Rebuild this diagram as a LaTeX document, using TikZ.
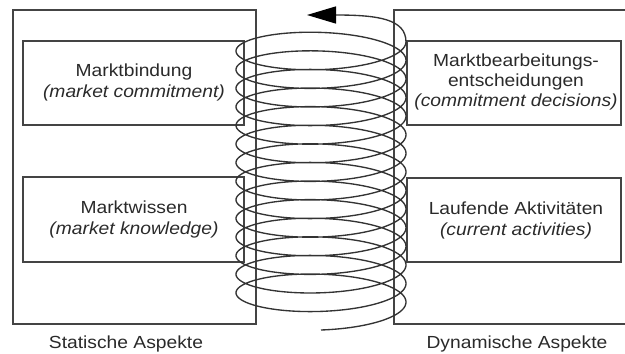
\documentclass[tikz,border=0pt]{standalone}
\usepackage{fontspec}
\setmainfont{Liberation Sans}[FakeStretch=1.1]
\usetikzlibrary{arrows.meta}
\definecolor{ln}{HTML}{444444}
\definecolor{cl}{HTML}{333333}
\definecolor{tx}{HTML}{2A2A2A}
\begin{document}
\begin{tikzpicture}[x=1pt,y=-1pt,
  box/.style={draw=ln, line width=1.5pt, inner sep=0pt},
  lbl/.style={text=tx, anchor=base, inner sep=0pt, font=\fontsize{17.5}{21}\selectfont},
  ilbl/.style={lbl, font=\fontsize{17.5}{21}\selectfont\itshape},
  coil/.style={draw=cl, line width=1.35pt}]
\useasboundingbox (0,0) rectangle (625,354);
% left side
\node[box, minimum width=243pt, minimum height=314pt] (Lout) at (134.5,167) {};
\node[box, minimum width=221pt, minimum height=84pt] (L1) at (133.5,83) {};
\node[box, minimum width=221pt, minimum height=85pt] (L2) at (133.5,219.5) {};
% right side
\coordinate (Rtr) at (627,10);
\coordinate (Rtl) at (394,10);
\coordinate (Rbl) at (394,324);
\coordinate (Rbr) at (627,324);
\draw[draw=ln, line width=1.5pt] (Rtr) -- (Rtl) -- (Rbl) -- (Rbr);
\node[box, minimum width=214pt, minimum height=84pt] (R1) at (514,83) {};
\node[box, minimum width=214pt, minimum height=84pt] (R2) at (514,220) {};
% texts
\node[lbl] (t1a) at (134,76) {Marktbindung};
\node[ilbl] (t1b) at (134,97) {(market commitment)};
\node[lbl] (t2a) at (134,213) {Marktwissen};
\node[ilbl] (t2b) at (134,234) {(market knowledge)};
\node[lbl] (t3a) at (516,66) {Marktbearbeitungs-};
\node[lbl] (t3b) at (516,86) {entscheidungen};
\node[ilbl] (t3c) at (516,106) {(commitment decisions)};
\node[lbl] (t4a) at (516,214) {Laufende Aktivitäten};
\node[ilbl] (t4b) at (516,235) {(current activities)};
\node[lbl] (sa) at (126,348) {Statische Aspekte};
\node[lbl] (da) at (517,348) {Dynamische Aspekte};
% helix
\coordinate (tipA) at (307,15);
\draw[coil, -{Triangle[length=29pt,width=17pt,color=black]}]
  plot[domain=0:89.5354, samples=1500] ({321+85*sin(\x r)}, {306.75-2.96028*\x+23.25*cos(\x r)})
  .. controls (406,19) and (378,15) .. (tipA);
\end{tikzpicture}
\end{document}
